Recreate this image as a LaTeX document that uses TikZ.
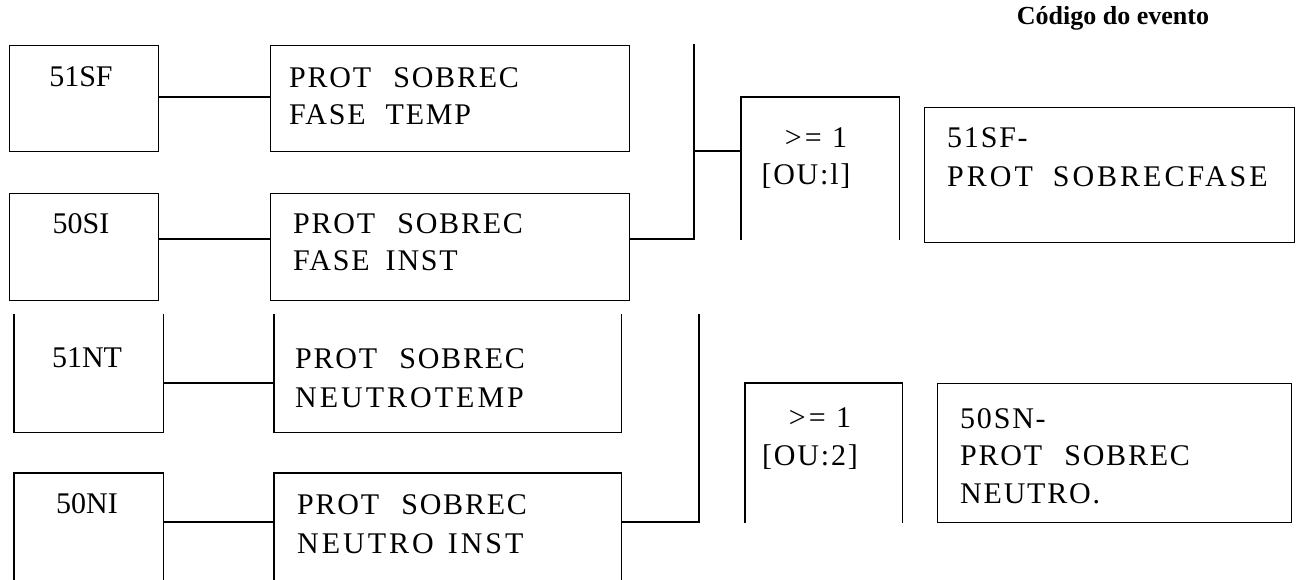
\documentclass[tikz,border=0pt]{standalone}
\usepackage{fontspec}
\setmainfont{Liberation Serif}
\newfontfamily\tsA[LetterSpace=6]{Liberation Serif}
\newfontfamily\tsB[LetterSpace=10]{Liberation Serif}
\begin{document}
\begin{tikzpicture}[x=1pt,y=-1pt,
  ln/.style={line width=1.2pt, line cap=rect},
  blk/.style={draw, line width=1.2pt, anchor=north west, inner sep=0pt},
  hid/.style={anchor=north west, inner sep=0pt, draw=none},
  lbl/.style={font=\fontsize{30}{30}\selectfont, inner sep=0pt, anchor=base},
  lbll/.style={lbl, anchor=base west}]
\useasboundingbox (0,0) rectangle (1300,580);

% title
\node[inner sep=0pt, anchor=base, font=\fontsize{26}{26}\selectfont\bfseries] (title) at (1113,25) {Código do evento};

% ---------- top group ----------
\node[blk, minimum width=149pt, minimum height=106pt] (b51SF) at (9,45) {};
\node[lbl] (t51SF) at (81,87) {51SF};
\node[blk, minimum width=359pt, minimum height=106pt] (p1) at (270,45) {};
\node[lbll] (p1a) at (289,88) {\tsA PROT\hspace{22pt}SOBREC};
\node[lbll] (p1b) at (289,125) {\tsA FASE\hspace{20pt}TEMP};

\node[blk, minimum width=149pt, minimum height=107pt] (b50SI) at (9,193) {};
\node[lbl] (t50SI) at (81,233) {50SI};
\node[blk, minimum width=359pt, minimum height=107pt] (p2) at (270,193) {};
\node[lbll] (p2a) at (293,233) {\tsA PROT\hspace{22pt}SOBREC};
\node[lbll] (p2b) at (293,270) {\tsA FASE\hspace{16pt}INST};

\draw[ln] (b51SF.east |- 0,97) -- (p1.west |- 0,97);
\draw[ln] (b50SI.east |- 0,239) -- (p2.west |- 0,239);

\coordinate (bus1top) at (694,45);
\coordinate (bus1bot) at (694,239);
\coordinate (bus1mid) at (694,151);
\draw[ln] (p2.east |- bus1bot) -- (bus1bot) -- (bus1top);

\node[hid, minimum width=158pt, minimum height=142pt] (ou1) at (741,97) {};
\draw[ln] (ou1.south west) -- (ou1.north west) -- (ou1.north east) -- (ou1.south east);
\draw[ln] (bus1mid) -- (ou1.west |- bus1mid);
\node[lbl] (ou1a) at (816,148) {\tsB >= 1};
\node[lbl] (ou1b) at (806,185) {\tsA [OU:l]};

\node[blk, minimum width=370pt, minimum height=135pt] (out1) at (924,107) {};
\node[lbll] (out1a) at (947,148) {\tsA 51SF-};
\node[lbll] (out1b) at (947,186) {\tsB PROT\hspace{20pt}SOBRECFASE};

% ---------- bottom group ----------
\node[hid, minimum width=149pt, minimum height=117pt] (b51NT) at (14,315) {};
\draw[ln] (b51NT.north west) -- (b51NT.south west) -- (b51NT.south east) -- (b51NT.north east);
\node[lbl] (t51NT) at (87,367) {51NT};
\node[hid, minimum width=347pt, minimum height=117pt] (p3) at (274,315) {};
\draw[ln] (p3.north west) -- (p3.south west) -- (p3.south east) -- (p3.north east);
\node[lbll] (p3a) at (295,368) {\tsA PROT\hspace{22pt}SOBREC};
\node[lbll] (p3b) at (295,407) {\tsB NEUTROTEMP};

\node[hid, minimum width=149pt, minimum height=112pt] (b50NI) at (14,473) {};
\draw[ln] (b50NI.south west) -- (b50NI.north west) -- (b50NI.north east) -- (b50NI.south east);
\node[lbl] (t50NI) at (87,513) {50NI};
\node[hid, minimum width=347pt, minimum height=112pt] (p4) at (274,473) {};
\draw[ln] (p4.south west) -- (p4.north west) -- (p4.north east) -- (p4.south east);
\node[lbll] (p4a) at (297,514) {\tsA PROT\hspace{22pt}SOBREC};
\node[lbll] (p4b) at (297,553) {\tsB NEUTRO\hspace{14pt}INST};

\draw[ln] (b51NT.east |- 0,383) -- (p3.west |- 0,383);
\draw[ln] (b50NI.east |- 0,522) -- (p4.west |- 0,522);

\coordinate (bus2top) at (699,315);
\coordinate (bus2bot) at (699,522);
\draw[ln] (p4.east |- bus2bot) -- (bus2bot) -- (bus2top);

\node[hid, minimum width=157pt, minimum height=139pt] (ou2) at (745,383) {};
\draw[ln] (ou2.south west) -- (ou2.north west) -- (ou2.north east) -- (ou2.south east);
\node[lbl] (ou2a) at (820,427) {\tsB >= 1};
\node[lbl] (ou2b) at (810,465) {\tsA [OU:2]};

\node[blk, minimum width=354pt, minimum height=139pt] (out2) at (937,383) {};
\node[lbll] (out2a) at (960,428) {\tsA 50SN-};
\node[lbll] (out2b) at (960,465) {\tsA PROT\hspace{22pt}SOBREC};
\node[lbll] (out2c) at (960,503) {\tsA NEUTRO.};
\end{tikzpicture}
\end{document}
